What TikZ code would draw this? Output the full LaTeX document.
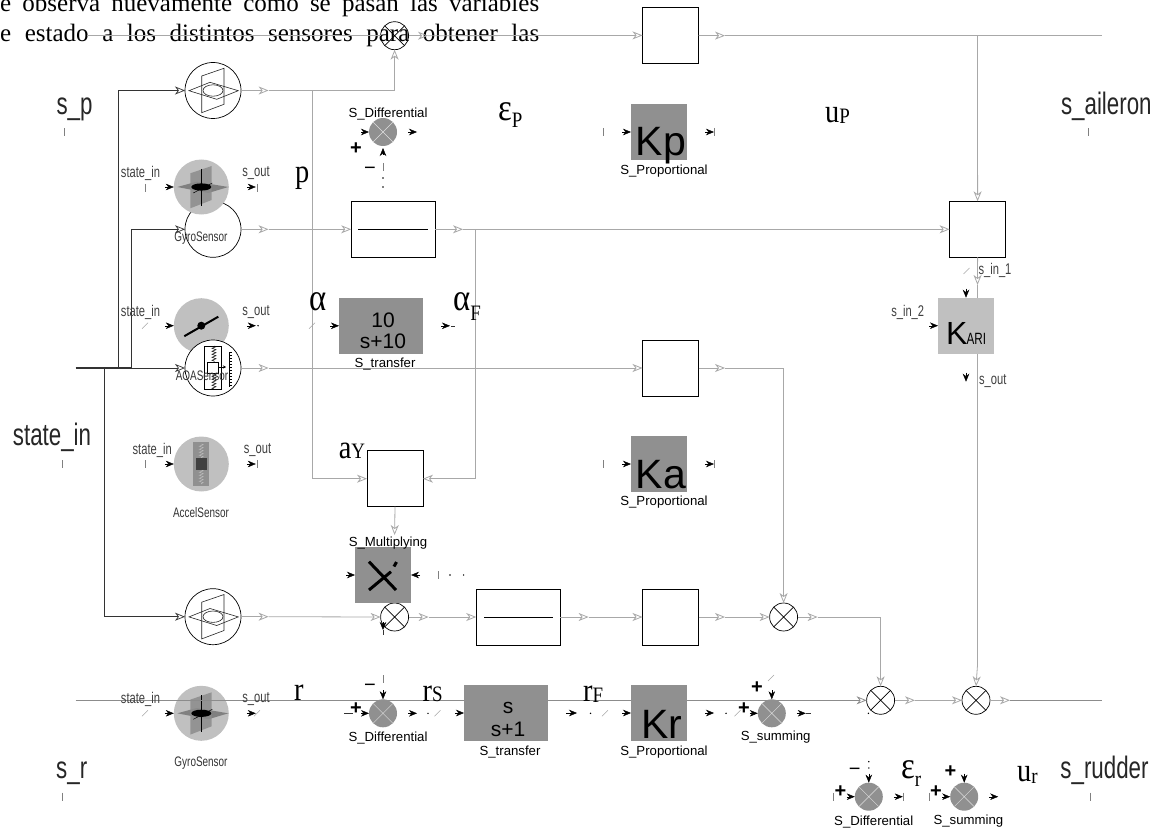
\documentclass[tikz,border=0pt]{standalone}
\usepackage{fontspec}
\setmainfont{Liberation Serif}
\setsansfont{Liberation Sans}
\newfontfamily\narrowfont[FakeStretch=0.72]{Liberation Sans}
\newfontfamily\sigfont[FakeStretch=0.86]{Liberation Serif}
\usepackage{tikz}
\usetikzlibrary{arrows.meta,decorations.pathmorphing}
\definecolor{blockgray}{HTML}{909090}
\definecolor{sensorgray}{HTML}{C0C0C0}
\definecolor{wiregray}{HTML}{A8A8A8}
\newcommand{\sublab}[2]{\raisebox{-#1pt}{\fontsize{22}{24}\selectfont #2}}
\newcommand{\biggreek}[1]{{\fontsize{38}{40}\selectfont #1}}
\tikzset{
    sig/.style={draw=wiregray, line width=0.8pt},
    sigtip/.style={sig, -{Stealth[open,length=10pt,width=8pt,inset=3pt]}},
    sigblack/.style={draw=black!80, line width=0.7pt},
    blacktip/.style={sigblack, -{Stealth[open,length=10pt,width=8pt,inset=3pt]}},
    stub/.style={draw=black, line width=0.4pt, -{Stealth[length=8pt,width=6.5pt,inset=2.5pt]}},
    porttick/.style={draw=gray, line width=0.5pt},
    whitebox/.style={draw=black, fill=white, line width=0.7pt, rectangle, minimum height=56pt, inner sep=0pt, outer sep=0pt},
    grayblock/.style={fill=blockgray, rectangle, minimum width=56pt, minimum height=56pt, inner sep=0pt, outer sep=0pt},
    wsensor/.style={draw=black, fill=white, line width=0.7pt, circle, minimum size=56pt, inner sep=0pt, outer sep=0pt},
    gsensor/.style={fill=sensorgray, circle, minimum size=55pt, inner sep=0pt, outer sep=0pt},
    sumjunc/.style={draw=black, fill=white, line width=0.7pt, circle, minimum size=28pt, inner sep=0pt, outer sep=0pt,
        path picture={\draw[black, line width=0.7pt] (path picture bounding box.north west) -- (path picture bounding box.south east)
            (path picture bounding box.south west) -- (path picture bounding box.north east);}},
    sumgray/.style={fill=blockgray, circle, minimum size=28pt, inner sep=0pt, outer sep=0pt,
        path picture={\draw[white!75!gray, line width=0.4pt] (path picture bounding box.north west) -- (path picture bounding box.south east)
            (path picture bounding box.south west) -- (path picture bounding box.north east);}},
    biglab/.style={font=\narrowfont\fontsize{31}{33}\selectfont, text=black!85, anchor=base, inner sep=0pt},
    portlab/.style={font=\narrowfont\fontsize{15.5}{17}\selectfont, text=black!75, inner sep=0pt},
    senslab/.style={font=\narrowfont\fontsize{13.8}{15}\selectfont, text=black!80, inner sep=0pt},
    blocklab/.style={font=\sffamily\fontsize{13.2}{15}\selectfont, inner sep=0pt},
    siglab/.style={font=\sigfont\fontsize{33}{35}\selectfont, anchor=base west, inner sep=0pt},
    gainlab/.style={font=\sffamily\fontsize{41}{43}\selectfont, anchor=base, inner sep=0pt},
    fraclab/.style={font=\sffamily\fontsize{21}{23}\selectfont, inner sep=0pt},
    pluslab/.style={font=\sffamily\bfseries\fontsize{20}{22}\selectfont, inner sep=0pt},
    minuslab/.style={font=\sffamily\fontsize{20}{22}\selectfont, inner sep=0pt},
    planes/.pic={
        \draw[black!85, line width=0.6pt] (-11.3,-14.5) -- (11,-22.2) -- (11,13.8) -- (-11.3,22.2) -- cycle;
        \draw[black!85, line width=0.6pt] (-24,0.2) -- (-3,-8.2) -- (25.3,0.2) -- (3.7,8.8) -- cycle;
        \draw[black!85, line width=0.6pt] (0,0) ellipse (10 and 5.7);
    },
    gyroicon/.pic={
        \fill[black!50] (-24,0) -- (-4.6,-5.3) -- (27,0) -- (7,6) -- cycle;
        \fill[black!45, opacity=0.85] (-11,-13.7) -- (10.4,-21) -- (10.4,13) -- (-11,21.3) -- cycle;
        \draw[black, line width=0.9pt] (0,-18) -- (0,19);
        \fill[black] (0,0) ellipse (10 and 3.6);
        \draw[black, line width=0.5pt] (-8,6) -- (11,-4);
    },
    vaneicon/.pic={
        \draw[black, line width=2pt] (-17,10.5) -- (17,-9);
        \fill[black] (0,0) circle (4);
    },
    accelicon/.pic={
        \fill[blockgray] (-8,-22) rectangle (8,22);
        \draw[black!25, line width=0.4pt, decorate, decoration={zigzag,segment length=3pt,amplitude=2pt}] (0,-20) -- (0,-6);
        \draw[black!25, line width=0.4pt, decorate, decoration={zigzag,segment length=3pt,amplitude=2pt}] (0,6) -- (0,20);
        \fill[black!75] (-5.5,-6) rectangle (5.5,6);
    },
    aoaicon/.pic={
        \draw[black, line width=0.6pt] (-8.7,-22) rectangle (8.7,21);
        \draw[black, line width=0.5pt, decorate, decoration={zigzag,segment length=3pt,amplitude=2pt}] (1,-22) -- (1,-6);
        \draw[black, line width=0.5pt, decorate, decoration={zigzag,segment length=3pt,amplitude=2pt}] (1,6) -- (1,21);
        \draw[black, fill=white, line width=0.6pt] (-5.7,-6) rectangle (5.3,5.3);
        \draw[black, line width=0.4pt, -{Stealth[length=3pt,width=3pt]}] (5.3,-1) -- (13,-1);
        \draw[black, line width=0.6pt] (16,-16) -- (16,19);
        \foreach \t in {-16,-13,...,19} {\draw[black, line width=0.4pt] (16,\t) -- (19,\t);}
    }
}
\begin{document}
\begin{tikzpicture}[x=1pt,y=-1pt]
    \useasboundingbox (0,0) rectangle (1158,829);
    \node[font=\fontsize{25}{27}\selectfont, anchor=base west, inner sep=0pt] (textA) at (0,12) {\makebox[539pt][s]{e observa nuevamente como se pasan las variables}};
    \node[font=\fontsize{25}{27}\selectfont, anchor=base west, inner sep=0pt] (textB) at (0,42) {\makebox[539pt][s]{e estado a los distintos sensores para obtener las}};

    % sensors on the left
    \node[wsensor] (wP) at (213,90.5) {};
    \node[wsensor] (wQ) at (213,229.3) {};
    \node[wsensor] (wR) at (213,616.7) {};
    \node[gsensor] (gyroQ) at (201.3,187) {};
    \node[gsensor] (vane) at (201.3,325.7) {};
    \node[gsensor] (accel) at (201.3,464) {};
    \node[gsensor] (gyroR) at (201.3,713.3) {};
    \node[wsensor] (wA) at (213,368) {};
    \pic at (wP) {planes};
    \pic at (wR) {planes};
    \pic at (gyroQ) {gyroicon};
    \pic at (gyroR) {gyroicon};
    \pic at (vane) {vaneicon};
    \pic at (accel) {accelicon};
    \pic at (wA) {aoaicon};
    \node[senslab] (lblGyroQ) at (201,238) {GyroSensor};
    \node[senslab] (lblAoa) at (202,376) {AOASensor};
    \node[senslab] (lblAccel) at (201,513) {AccelSensor};
    \node[senslab] (lblGyroR) at (201,763.5) {GyroSensor};

    % plain blocks and sums
    \node[sumjunc, fill=none] (sumTop) at (394.6,35.7) {};
    \node[sumjunc] (sumMid) at (394.6,617) {};
    \node[sumjunc] (sumAoa) at (783.6,617) {};
    \node[sumjunc] (sumYaw) at (880.6,700.3) {};
    \node[sumjunc] (sumOut) at (976,700.3) {};
    \node[whitebox, minimum width=56pt] (boxTop) at (670.5,35.4) {};
    \node[whitebox, minimum width=84pt] (boxFilt) at (393.2,229.3) {};
    \node[whitebox, minimum width=56pt] (boxRoll) at (977.6,229.3) {};
    \node[whitebox, minimum width=56pt] (boxAoa) at (670.5,368) {};
    \node[whitebox, minimum width=56pt] (boxMul) at (395,478.7) {};
    \node[whitebox, minimum width=84pt] (boxWash) at (518.2,617) {};
    \node[whitebox, minimum width=56pt] (boxGain) at (670.5,617) {};
    \draw[black, line width=0.9pt] ([xshift=7pt]boxFilt.west) -- ([xshift=-7pt]boxFilt.east);
    \draw[black, line width=0.9pt] ([xshift=8pt]boxWash.west) -- ([xshift=-7pt]boxWash.east);

    % free ends of the wires
    \coordinate (stateStart) at (75.7,368);
    \coordinate (tA) at (104.6,368);
    \coordinate (tB) at (118,368);
    \coordinate (tC) at (131.4,368);
    \coordinate (topStart) at (87,35.7);
    \coordinate (topA) at (428,35.7);
    \coordinate (topB) at (725,35.7);
    \coordinate (topBr) at (977.5,35.7);
    \coordinate (topEnd) at (1102,35.7);
    \coordinate (pA) at (268.6,90.5);
    \coordinate (pBr) at (312,90.5);
    \coordinate (qA) at (268.6,229.3);
    \coordinate (qB) at (463,229.3);
    \coordinate (qBr) at (475,229.3);
    \coordinate (aA) at (268.6,368);
    \coordinate (aB) at (725,368);
    \coordinate (mulIn) at (394.6,535);
    \coordinate (rA) at (268.6,616.7);
    \coordinate (rB) at (428.6,617);
    \coordinate (rC) at (588.6,617);
    \coordinate (rD) at (725,617);
    \coordinate (rE) at (817.6,617);
    \coordinate (botStart) at (75.7,700.3);
    \coordinate (bA) at (915,700.3);
    \coordinate (bB) at (1010,700.3);
    \coordinate (botEnd) at (1102,700.3);
    \coordinate (rollTip) at (977.5,285);
    \coordinate (rollKnee) at (977.5,665);

    % black trunk
    \draw[sigblack, line width=1.2pt] (stateStart) -- (tC);
    \draw[blacktip] (tB) |- (wP.west);
    \draw[blacktip] (tC) |- (wQ.west);
    \draw[blacktip] (tC) -- (wA.west);
    \draw[blacktip] (tA) |- (wR.west);

    % gray wires
    \draw[sig] (topStart) -- (sumTop.west);
    \draw[sigtip] (sumTop.east) -- (topA);
    \draw[sigtip] (topA) -- (boxTop.west);
    \draw[sigtip] (boxTop.east) -- (topB);
    \draw[sig, line width=1.1pt] (topB) -- (topEnd);
    \draw[sigtip] (topBr) -- (boxRoll.north);
    \draw[sigtip] (wP.east) -- (pA);
    \draw[sigtip] (pA) -| (sumTop.south);
    \draw[sigtip] (pBr) |- (boxMul.west);
    \draw[sigtip] (wQ.east) -- (qA);
    \draw[sigtip] (qA) -- (boxFilt.west);
    \draw[sigtip] (boxFilt.east) -- (qB);
    \draw[sigtip] (qB) -- (boxRoll.west);
    \draw[sigtip] (qBr) |- (boxMul.east);
    \draw[sigtip] (wA.east) -- (aA);
    \draw[sigtip] (aA) -- (boxAoa.west);
    \draw[sigtip] (boxAoa.east) -- (aB);
    \draw[sigtip] (aB) -| (sumAoa.north);
    \draw[sigtip] (boxMul.south) -- (mulIn);
    \draw[sigtip] (wR.east) -- (rA);
    \draw[sigtip] (rA) -- (sumMid.west);
    \draw[sigtip] (sumMid.east) -- (rB);
    \draw[sigtip] (rB) -- (boxWash.west);
    \draw[sigtip] (boxWash.east) -- (rC);
    \draw[sigtip] (rC) -- (boxGain.west);
    \draw[sigtip] (boxGain.east) -- (rD);
    \draw[sigtip] (rD) -- (sumAoa.west);
    \draw[sigtip] (sumAoa.east) -- (rE);
    \draw[sigtip] (rE) -| (sumYaw.north);
    \draw[sigtip, draw=black!45] (botStart) -- (sumYaw.west);
    \draw[sigtip] (sumYaw.east) -- (bA);
    \draw[sigtip] (bA) -- (sumOut.west);
    \draw[sigtip] (sumOut.east) -- (bB);
    \draw[sig, draw=black!45] (bB) -- (botEnd);
    \draw[sigtip] (boxRoll.south) -- (rollTip);
    \draw[sig] (rollTip) -- (rollKnee);
    \draw[sigtip] (rollKnee) -- (sumOut.north);

    % gray function blocks
    \node[grayblock, minimum width=84pt] (tfAlpha) at (381,325.8) {};
    \node[grayblock, minimum width=84pt] (tfYaw) at (506,713) {};
    \node[grayblock] (kP) at (659,132) {};
    \node[grayblock] (kA) at (659,464) {};
    \node[grayblock] (kR) at (659,713) {};
    \node[grayblock, fill=sensorgray] (kAri) at (966,325.7) {};
    \node[grayblock] (mulBlock) at (383,575) {};
    \node[sumgray] (diffP) at (383,132) {};
    \node[sumgray] (diffR) at (383,713.3) {};
    \node[sumgray] (sumR) at (771.8,713.3) {};
    \node[sumgray] (diffOut) at (868.8,796.7) {};
    \node[sumgray] (sumFinal) at (964.2,796.7) {};
    \draw[black, line width=3pt] (369,561.7) -- (396,590) (369,590) -- (391,571.7) (394,566.5) -- (396.5,562);

    \node[fraclab] (numAlpha) at (383,320) {10};
    \node[fraclab] (denAlpha) at (383,341) {s+10};
    \node[fraclab] (numYaw) at (508,708) {s};
    \node[fraclab] (denYaw) at (508,729) {s+1};
    \node[gainlab] (txtKp) at (660.8,156) {Kp};
    \node[gainlab] (txtKa) at (660.8,488.3) {Ka};
    \node[gainlab] (txtKr) at (662,738) {Kr};
    \node[gainlab, anchor=base west, font=\sffamily\fontsize{32}{34}\selectfont] (txtKari) at (946,344) {K\kern-1pt{\narrowfont\fontsize{16.3}{18}\selectfont ARI}};
    \node[blocklab] (lblDiffP) at (388,114.5) {S\_Differential};
    \node[blocklab] (lblTfAlpha) at (385,364) {S\_transfer};
    \node[blocklab] (lblMul) at (388,543.5) {S\_Multiplying};
    \node[blocklab] (lblDiffR) at (388,737.7) {S\_Differential};
    \node[blocklab] (lblTfYaw) at (510,751.7) {S\_transfer};
    \node[blocklab] (lblKp) at (664,170.7) {S\_Proportional};
    \node[blocklab] (lblKa) at (664,502.3) {S\_Proportional};
    \node[blocklab] (lblKr) at (664,751.7) {S\_Proportional};
    \node[blocklab] (lblSumR) at (775.6,737.3) {S\_summing};
    \node[blocklab] (lblDiffOut) at (873.7,821.7) {S\_Differential};
    \node[blocklab] (lblSumFinal) at (968.4,820.7) {S\_summing};

    % port names
    \foreach \n/\x/\y/\t in {pa/140.5/173/state\_in, pb/256/173/s\_out, pc/140.5/312.3/state\_in, pd/256/312.3/s\_out,
            pe/152.2/450/state\_in, pf/257.5/450/s\_out, pg/140.5/699/state\_in, ph/256/699/s\_out,
            pi/995/270/s\_in\_1, pj/907.7/312.3/s\_in\_2, pk/992.7/381/s\_out}
        \node[portlab] (\n) at (\x,\y) {\t};

    % stubs with black arrowheads
    \foreach \n in {gyroQ,vane,accel,gyroR,tfAlpha,kP,kA,kR,mulBlock,tfYaw,kAri}
        \draw[stub] ([xshift=-9pt]\n.west) -- (\n.west);
    \foreach \n in {gyroQ,vane,accel,gyroR,tfAlpha,kP,kA,kR}
        \draw[stub] ([xshift=18pt]\n.east) -- ([xshift=27pt]\n.east);
    \foreach \n in {diffP,diffR,sumR,diffOut,sumFinal}
        \draw[stub] ([xshift=11pt]\n.east) -- ([xshift=20pt]\n.east);
    \foreach \n in {diffP,diffR,sumR,diffOut,sumFinal}
        \draw[stub] ([xshift=-8pt]\n.west) -- (\n.west);
    \draw[stub] ([yshift=-9pt]diffP.south) -- ([yshift=-2pt]diffP.south);
    \foreach \n in {diffR,sumR,diffOut,sumFinal}
        \draw[stub] ([yshift=9pt]\n.north) -- (\n.north);
    \draw[stub] ([yshift=9pt]kAri.north) -- (kAri.north);
    \draw[stub] ([yshift=-19pt]kAri.south) -- ([yshift=-28pt]kAri.south);
    \draw[stub] ([xshift=9pt]mulBlock.east) -- (mulBlock.east);
    \draw[stub] ([xshift=18pt]tfYaw.east) -- ([xshift=29pt]tfYaw.east);
    \draw[stub] (383,622) -- (383,630);
    \draw[sigblack, line width=0.4pt] (383,630) -- (383,635);
    \draw[sigblack, line width=0.4pt] (451,325.7) -- (455,325.7);
    \draw[sigblack, line width=0.4pt] (344,713.3) -- (353,713.3);
    \draw[sigblack, line width=0.4pt] (806,713.3) -- (811,713.3);

    % small port marks
    \foreach \x/\y in {64.5/132.5,62.5/464,62.5/796.7,603.5/132,603.5/464,714.6/132,714.6/464,
            1088.6/132.5,1090.5/796.7,833.7/796.7,903.5/796.7,929.5/796.7,383/167,383/679,438/575,145/187.7,145/464,257/187.7,257/464}
        \draw[porttick] (\x,\y-4) -- (\x,\y+4);
    \foreach \x/\y in {145/325.7,312/325.7,145/713.3,257/713.3,966.5/271,437.5/713.3,605/713.3,737.5/713.3,771/678}
        \draw[porttick, draw=gray!70] (\x-3,\y+3) -- (\x+3,\y-3);
    \foreach \x/\y in {383/178,383/187,450/575,463.6/575,258/325.7,428/713.3,590.5/713.3,726/713.3,868.4/713.3,868.8/761.7,868.8/768}
        \fill[black] (\x,\y) circle (0.8);

    % plus and minus signs
    \node[pluslab] (plusA) at (356,149) {+};
    \node[minuslab] (minusA) at (370,171) {−};
    \node[minuslab] (minusB) at (370,688.3) {−};
    \node[pluslab] (plusB) at (356,709) {+};
    \node[pluslab] (plusC) at (744,709) {+};
    \node[pluslab] (plusD) at (757,688) {+};
    \node[minuslab] (minusC) at (854.6,771.7) {−};
    \node[pluslab] (plusE) at (840.5,791.7) {+};
    \node[pluslab] (plusF) at (950.5,771.7) {+};
    \node[pluslab] (plusG) at (936,791.7) {+};

    % signal names in the serif face
    \node[siglab] (epsP) at (498,121) {\biggreek{ε}\sublab{7}{P}};
    \node[siglab] (sigU) at (825,123) {u\sublab{1}{P}};
    \node[siglab] (sigP) at (295,182.7) {p};
    \node[siglab] (sigAlpha) at (309,310) {\biggreek{α}};
    \node[siglab] (sigAlphaF) at (453,310) {\biggreek{α}\sublab{10}{F}};
    \node[siglab] (sigAy) at (338.6,458) {a\sublab{0}{Y}};
    \node[siglab] (sigR) at (294,700) {r};
    \node[siglab] (sigRs) at (422.5,701.7) {r\sublab{0}{S}};
    \node[siglab] (sigRf) at (583,701) {r\sublab{1}{F}};
    \node[siglab] (epsR) at (901,778) {\biggreek{ε}\sublab{8}{r}};
    \node[siglab] (sigUr) at (1017,781.7) {u\sublab{2}{r}};

    % outer signal labels
    \node[biglab] (lblSp) at (74.5,115) {s\_p};
    \node[biglab] (lblState) at (52,445.7) {state\_in};
    \node[biglab] (lblSr) at (71.7,778) {s\_r};
    \node[biglab] (lblAileron) at (1106.3,115) {s\_aileron};
    \node[biglab] (lblRudder) at (1104.5,778) {s\_rudder};
\end{tikzpicture}
\end{document}
